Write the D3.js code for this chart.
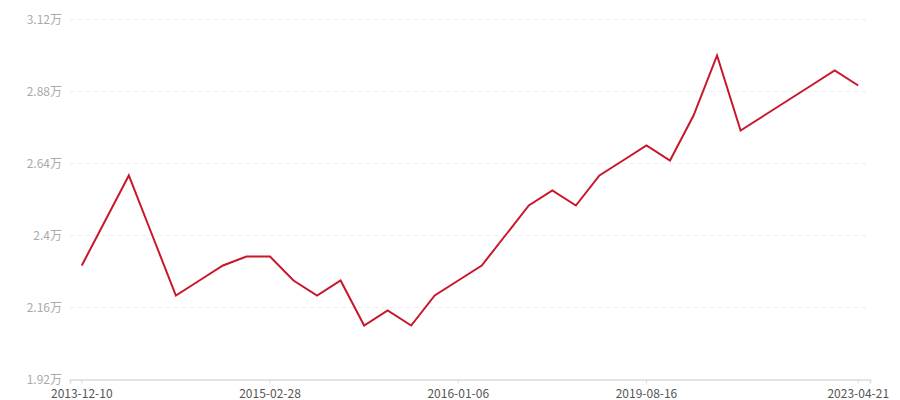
<!DOCTYPE html>
<html>
<head>
<meta charset="utf-8">
<script src="https://cdn.jsdelivr.net/npm/d3@7"></script>
<style>
  body { margin: 0; background: #fff; }
  text { font-family: "Microsoft YaHei", "Noto Sans CJK SC", sans-serif; }
</style>
</head>
<body>
<svg></svg>
<script>
var width = 900;
var height = 400;
var margin = {top: 19.5, right: 30, bottom: 20.5, left: 70};

// 34 dates on the x axis, only the labelled ones are readable
var dates = [
  "2013-12-10", "", "", "", "", "", "", "",
  "2015-02-28", "", "", "", "", "", "", "",
  "2016-01-06", "", "", "", "", "", "", "",
  "2019-08-16", "", "", "", "", "", "", "", "",
  "2023-04-21"
];

// price per value, yuan
var prices = [
  23000, 24500, 26000, 24000, 22000, 22500, 23000, 23300,
  23300, 22500, 22000, 22500, 21000, 21500, 21000, 22000,
  22500, 23000, 24000, 25000, 25500, 25000, 26000, 26500,
  27000, 26500, 28000, 30000, 27500, 28000, 28500, 29000, 29500,
  29000
];

var yTicks = [19200, 21600, 24000, 26400, 28800, 31200];

var svg = d3.select("svg")
            .attr("width", width)
            .attr("height", height);

var xScale = d3.scaleBand()
               .domain(d3.range(dates.length))
               .range([margin.left, width - margin.right])
               .padding(0);

var yScale = d3.scaleLinear()
               .domain([19200, 31200])
               .range([height - margin.bottom, margin.top]);

var cx = i => xScale(i) + xScale.bandwidth() / 2;

// Grid lines
svg.append("g")
  .selectAll("line")
  .data(yTicks.slice(1))
  .enter()
  .append("line")
    .attr("x1", margin.left)
    .attr("x2", width - margin.right)
    .attr("y1", d => yScale(d))
    .attr("y2", d => yScale(d))
    .attr("stroke", "#ececec")
    .attr("stroke-dasharray", "4,4");

// Y axis labels
var fmt = d => (+(d / 10000).toFixed(2)) + "万";
svg.append("g")
  .selectAll("text")
  .data(yTicks)
  .enter()
  .append("text")
    .attr("x", margin.left - 8)
    .attr("y", d => yScale(d))
    .attr("dy", "0.35em")
    .attr("text-anchor", "end")
    .attr("font-size", "12px")
    .attr("fill", "#aaa")
    .text(fmt);

// X axis
var labelled = d3.range(dates.length).filter(i => dates[i] !== "");
var xAxis = d3.axisBottom(xScale)
              .tickValues(labelled)
              .tickFormat(i => dates[i])
              .tickSizeOuter(0)
              .tickSize(4);

var gx = svg.append("g")
  .attr("transform", "translate(0," + (height - margin.bottom) + ")")
  .call(xAxis);

gx.select(".domain").attr("stroke", "#dcdcdc").attr("stroke-width", 1.5);
gx.selectAll(".tick line").attr("stroke", "#dcdcdc");
gx.selectAll(".tick text")
  .attr("fill", "#555")
  .attr("font-size", "12px")
  .attr("font-family", "\"Microsoft YaHei\", \"Noto Sans CJK SC\", sans-serif")
  .attr("y", 10);

// Price line
var line = d3.line()
             .x((d, i) => cx(i))
             .y(d => yScale(d));

svg.append("path")
  .datum(prices)
  .attr("d", line)
  .attr("fill", "none")
  .attr("stroke", "#c8172b")
  .attr("stroke-width", 2)
  .attr("stroke-linejoin", "miter");
</script>
</body>
</html>
